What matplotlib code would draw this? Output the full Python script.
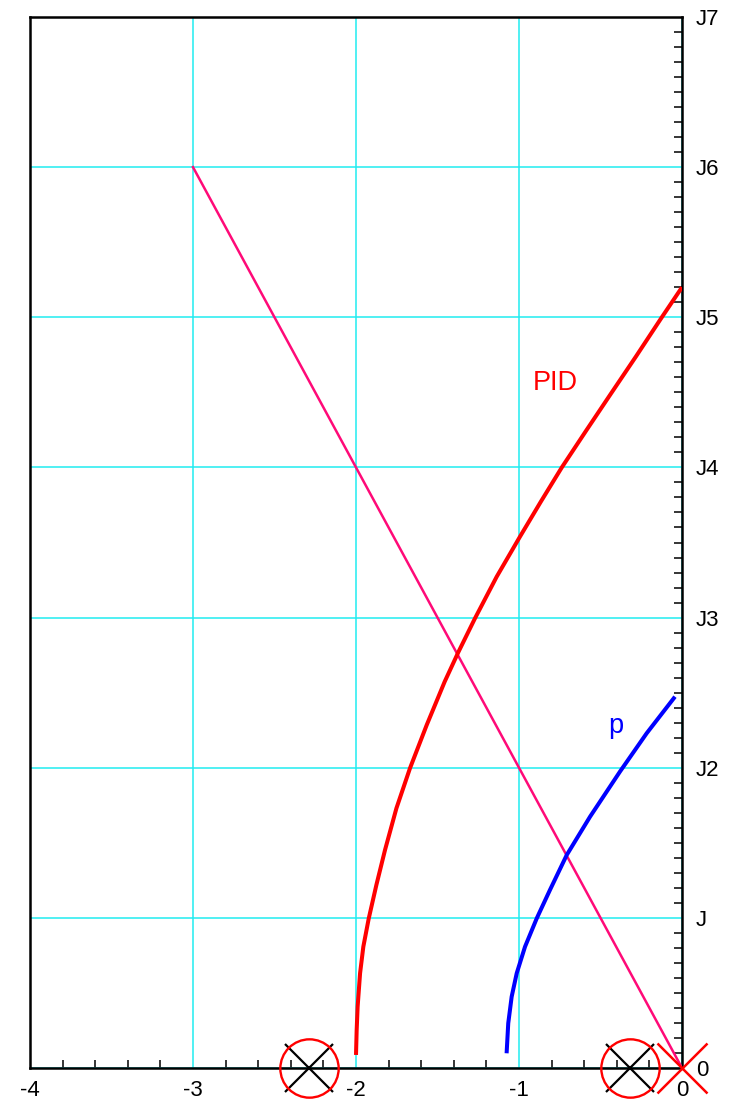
import numpy as np
import matplotlib.pyplot as plt
from matplotlib.ticker import MultipleLocator

plt.rcParams['font.family'] = ['Liberation Sans', 'DejaVu Sans']

# root locus branches
pid_x = [-2.000, -1.996, -1.990, -1.975, -1.955, -1.922, -1.875, -1.822, -1.752,
         -1.669, -1.566, -1.456, -1.372, -1.270, -1.137, -0.994, -0.866, -0.738,
         -0.588, -0.440, -0.283, -0.130, 0.0]
pid_y = [0.087, 0.25, 0.409, 0.631, 0.808, 0.995, 1.219, 1.452, 1.730,
         1.996, 2.285, 2.573, 2.770, 2.995, 3.272, 3.539, 3.772, 3.999,
         4.245, 4.485, 4.738, 4.990, 5.200]

p_x = [-1.076, -1.066, -1.045, -1.014, -0.963, -0.891, -0.810, -0.707, -0.564,
       -0.380, -0.217, -0.043]
p_y = [0.098, 0.298, 0.475, 0.631, 0.808, 0.997, 1.186, 1.419, 1.674,
       1.975, 2.229, 2.473]

line_x = [-3.0, 0.0]
line_y = [6.0, 0.0]

pole_x = [-2.286, -0.32]
pole_y = [0.0, 0.0]

y_ticks = [0, 1, 2, 3, 4, 5, 6, 7]
y_labels = ['0', 'J', 'J2', 'J3', 'J4', 'J5', 'J6', 'J7']
x_ticks = [-4, -3, -2, -1, 0]
x_labels = ['-4', '-3', '-2', '-1', '0']

fig = plt.figure(figsize=(7.36, 11.01), dpi=100)
ax = fig.add_axes([30 / 736, 33 / 1101, 652 / 736, 1051 / 1101])

ax.set_xlim(-4, 0)
ax.set_ylim(0, 7)

ax.grid(True, color='#20ecf0', linewidth=1.1)
ax.set_axisbelow(True)

ax.plot(line_x, line_y, color='#ff0a78', linewidth=1.8, zorder=3)
ax.plot(pid_x, pid_y, color='red', linewidth=2.9, zorder=4,
        solid_joinstyle='round', solid_capstyle='butt')
ax.plot(p_x, p_y, color='blue', linewidth=2.9, zorder=4,
        solid_joinstyle='round', solid_capstyle='butt')

ax.plot(pole_x, pole_y, linestyle='none', marker='x', markersize=34, markeredgewidth=1.6,
        color='black', clip_on=False, zorder=5)
ax.plot(pole_x, pole_y, linestyle='none', marker='o', markersize=42, markeredgewidth=1.7,
        markerfacecolor='none', markeredgecolor='red', clip_on=False, zorder=5)
ax.plot([0], [0], linestyle='none', marker='x', markersize=36, markeredgewidth=1.8,
        color='red', clip_on=False, zorder=5)

ax.text(-0.779, 4.56, 'PID', color='red', fontsize=19.5, ha='center', va='center')
ax.text(-0.405, 2.28, 'p', color='blue', fontsize=19.5, ha='center', va='center')

ax.yaxis.tick_right()
ax.set_yticks(y_ticks)
ax.set_yticklabels(y_labels)
ax.set_xticks(x_ticks)
ax.set_xticklabels(x_labels)
ax.xaxis.set_minor_locator(MultipleLocator(0.2))
ax.yaxis.set_minor_locator(MultipleLocator(0.1))
ax.tick_params(which='major', length=0, labelsize=16, pad=9)
ax.tick_params(axis='y', which='major', pad=10)
ax.tick_params(which='minor', direction='in', length=5.5, width=1.1, color='black')
ax.tick_params(axis='x', which='minor', top=False)
ax.tick_params(axis='y', which='minor', left=False, right=True)

for s in ax.spines.values():
    s.set_linewidth(1.8)
    s.set_color('black')

fig.savefig('out.png', dpi=100)
